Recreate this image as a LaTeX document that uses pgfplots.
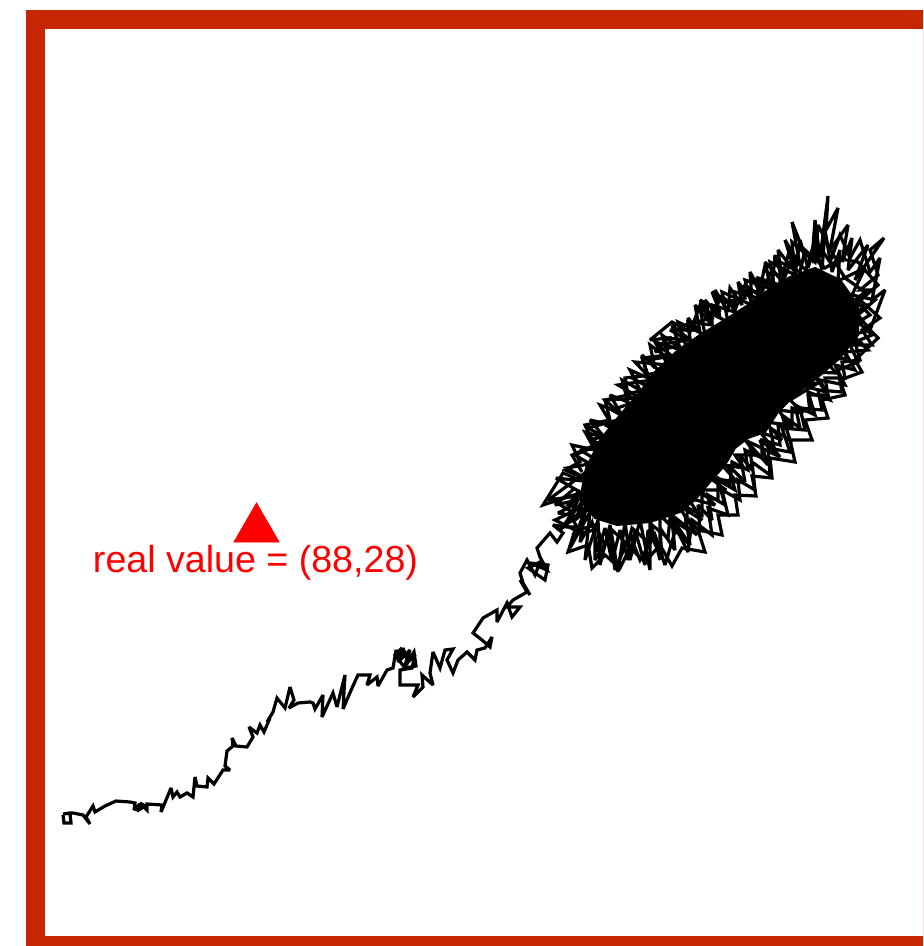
\documentclass[border=0pt]{standalone}
\usepackage{pgfplots}
\pgfplotsset{compat=1.18}
\usepackage{fontspec}
\setmainfont{Liberation Sans}
\definecolor{frameRed}{RGB}{199,38,5}
\begin{document}
\begin{tikzpicture}
\useasboundingbox (-17.75pt,-0.25pt) rectangle (443.75pt,472.75pt);
\clip (-17.75pt,-0.25pt) rectangle (443.75pt,472.75pt);
\begin{axis}[
  at={(0,0)}, anchor=south west,
  scale only axis, width=448.5pt, height=463pt,
  xmin=35.5, xmax=932.5, ymin=19.5, ymax=945.5, y dir=reverse,
  xtick=\empty, ytick=\empty,
  axis line style={draw=frameRed, line width=9.5pt},
  every axis plot/.append style={line join=miter, miter limit=3},
]
% dense core of the chain
\addplot[black, fill=black, line width=1pt] coordinates {
(580,500)(586,468)(600,440)(620,415)(640,392)(655,372)(678,350)(700,335)
(728,318)(748,305)(768,290)(790,277)(815,268)(840,280)(858,305)(858,335)
(840,358)(817,378)(795,395)(778,412)(765,432)(748,438)(735,448)(725,465)
(710,482)(695,500)(680,512)(650,522)(617,525)(595,518)(580,500)
};
% chain: burn-in path
\addplot[black, line width=1.6pt] coordinates {
(63,815)(64,823)(71,823)(70,813)(63,814)(73,813)(83,815)(90,824)(86,817)(93,806)
(95,812)(105,806)(116,801)(130,802)(135,803)(134,810)(140,804)(137,811)(145,806)
(140,803)(147,810)(147,804)(162,805)(161,812)(166,800)(171,788)(173,797)(177,792)
(180,797)(187,793)(193,797)(195,777)(197,786)(207,787)(208,778)(214,784)(223,770)
(230,770)(225,766)(227,751)(233,746)(232,738)(236,746)(247,747)(253,737)(249,727)
(257,733)(260,725)(264,732)(270,718)(267,722)(273,712)(277,698)(285,708)(290,687)
(294,700)(289,708)(298,703)(310,702)(313,703)(315,709)(323,695)(322,717)(333,693)
(337,707)(345,675)(343,709)(352,688)(358,675)(370,675)(367,685)(377,677)(378,686)
(387,670)(393,668)(396,650)(400,660)(403,648)(408,662)(414,652)(416,666)(405,668)
(395,655)(402,648)(398,662)(410,650)(405,665)(415,655)(412,668)(400,670)
(400,685)(418,685)(413,697)(423,687)(422,675)(433,685)(430,673)(433,652)(440,668)
(445,650)(453,649)(447,660)(453,673)(458,660)(467,652)(475,660)(477,650)(485,648)
(492,637)(490,647)(482,640)(473,633)(477,627)(483,618)(497,610)(497,622)(507,603)
(512,617)(520,607)(507,607)(513,600)(527,592)(520,580)(530,595)(523,583)(520,573)
(527,560)(535,575)(540,562)(528,568)(545,580)(548,565)(530,563)(547,570)(540,557)
(537,548)(550,533)(557,542)(563,533)(553,525)(567,527)(577,527)(570,515)(558,513)
(570,507)(580,493)(543,505)(563,473)(580,480)(593,467)
};
% chain: stationary part, spikes out of the cloud
\addplot[black, line width=1.6pt] coordinates {
(593,467)(548,500)(585,495)(556,478)(592,482)(567,468)(600,462)(580,450)(612,448)
(590,440)(620,432)(605,425)(630,420)(612,410)(640,400)(625,395)(650,388)(632,378)
(660,372)(648,360)(672,356)(658,345)(688,340)(670,330)(700,330)(685,325)(712,318)
(700,300)(720,312)(712,292)(735,305)(725,302)(745,298)(742,290)(760,292)(752,278)
(770,285)(765,262)(782,280)(778,250)(795,272)(785,240)(800,265)(792,222)(805,255)
(800,245)(812,260)(815,220)(820,258)(828,196)(826,230)(838,208)(830,250)(848,225)
(842,262)(852,238)(848,270)(868,245)(855,280)(884,238)(870,250)(878,275)(860,290)
(872,290)(855,305)(866,305)(850,318)(864,322)(845,330)(860,342)(838,345)(848,358)
(825,360)(836,373)(812,372)(826,392)(800,385)(818,383)(790,400)(803,413)(778,410)
(790,425)(765,422)(782,440)(760,432)(780,457)(745,440)(757,455)(735,455)(744,468)
(722,465)(737,482)(710,478)(726,490)(700,490)(715,505)(688,498)(702,520)(678,505)
(697,535)(668,512)(690,545)(660,515)(660,560)(650,520)(650,570)(640,520)(630,560)
(625,522)(618,572)(610,525)(600,565)(598,520)(585,560)(590,512)(570,548)(588,505)
(560,530)(585,498)(575,520)(600,500)
};
% chain: stationary part, upper-left edge of the cloud
\addplot[black, line width=1.6pt] coordinates {
(588,480)(565,470)(580,462)(572,445)(595,450)(585,432)(605,438)(590,420)(612,425)
(600,405)(620,412)(610,395)(628,402)(622,380)(640,390)(630,370)(648,378)(642,355)
(655,368)(650,345)(668,358)(662,335)(680,348)(672,325)(690,340)(688,318)(700,332)
(695,305)(712,325)(705,300)(720,318)(715,290)(728,312)(730,288)(742,305)(738,282)
(752,300)(750,272)(760,290)(765,265)(772,288)(775,255)(782,278)(790,248)(795,275)
(800,240)(808,268)(815,245)(822,270)(825,230)(832,272)(840,250)(838,280)
};
% chain: stationary part, lower-right edge of the cloud
\addplot[black, line width=1.6pt] coordinates {
(840,280)(865,268)(852,295)(875,300)(858,315)(870,330)(852,335)(868,350)(845,352)
(855,370)(835,365)(845,385)(820,380)(830,400)(808,392)(815,415)(795,405)(800,428)
(782,415)(790,440)(770,428)(775,452)(760,440)(768,465)(750,445)(752,470)(740,455)
(745,482)(728,465)(735,490)(718,480)(725,505)(708,495)(712,520)(698,505)(700,532)
(685,515)(690,545)(672,520)(675,550)(660,528)(662,558)(648,530)(645,565)(635,530)
(628,560)(620,530)(612,562)(605,528)(598,552)(592,522)(580,542)(585,512)(565,525)
(578,500)(555,505)(575,488)
};
% chain: stationary part, second pass round the cloud
\addplot[black, line width=1.6pt] coordinates {
(600,470)(575,455)(610,440)(588,428)(625,418)(605,400)(640,398)(618,385)(652,380)
(635,362)(668,365)(655,342)(688,352)(678,322)(705,335)(700,308)(728,322)(722,292)
(752,305)(745,280)(775,290)(770,262)(795,275)(792,242)(815,262)(818,225)(835,258)
(858,262)(878,285)(860,300)(880,318)(862,330)(872,345)(850,345)(858,362)(838,370)
(842,392)(818,390)(822,410)(800,408)(805,430)(782,428)(790,452)(768,448)(770,475)
(752,462)(755,490)(738,480)(740,500)(722,490)(728,515)(708,508)(712,535)(692,520)
(688,552)(676,528)(665,565)(655,535)(640,560)(630,535)(615,570)(610,535)(595,560)
(595,530)(572,535)
};
% chain: stationary part, close to the dense core
\addplot[black, line width=1.6pt] coordinates {
(582,472)(572,455)(595,445)(585,425)(610,420)(605,400)(628,395)(625,378)(648,375)
(642,358)(668,355)(665,338)(690,340)(688,322)(712,325)(712,305)(735,312)(735,292)
(758,298)(758,278)(780,285)(780,262)(800,272)(805,250)(825,268)(835,262)(845,278)
(865,292)(855,300)(870,315)(858,322)(872,335)(855,342)(860,360)(842,362)(845,378)
(825,378)(828,395)(808,395)(810,412)(792,408)(792,428)(778,425)(780,445)(762,440)
(762,458)(745,450)(748,470)(732,462)(730,485)(718,478)(718,500)(702,495)(702,515)
(688,508)(685,528)(670,518)(668,538)(652,525)(648,542)(632,528)(628,545)(612,530)
(605,545)(595,525)(578,530)(585,510)(568,505)(580,490)
};
% chain: a few longer excursions
\addplot[black, line width=1.6pt] coordinates {
(680,345)(655,352)(668,338)(650,340)(672,322)(690,332)(700,305)(710,318)(722,296)
(735,310)(745,285)(760,296)(772,270)(783,282)(792,258)(806,270)(815,240)(830,262)
(840,235)(850,258)(860,240)(870,272)(880,258)(872,300)(885,290)(870,330)(878,338)
(855,360)(862,372)(840,380)(845,395)(822,400)(828,418)(805,420)(812,440)(790,440)
(795,462)(770,458)(772,478)(752,476)(756,496)(735,495)(738,515)(718,515)(722,535)
(698,530)(705,552)(682,548)(672,566)(660,545)(645,562)(630,548)(620,568)(605,555)
(592,568)(588,545)(568,552)(575,530)(555,520)(572,512)(552,500)
};
% true value
\addplot[only marks, mark=triangle*, mark size=13pt, color=red, fill=red]
  coordinates {(256.5,529)};
\node[anchor=base, text=red, font=\fontsize{18.8}{22}\selectfont, inner sep=0pt]
  at (axis cs:255.5,572.5) {real value = (88,28)};
\end{axis}
\end{tikzpicture}
\end{document}
